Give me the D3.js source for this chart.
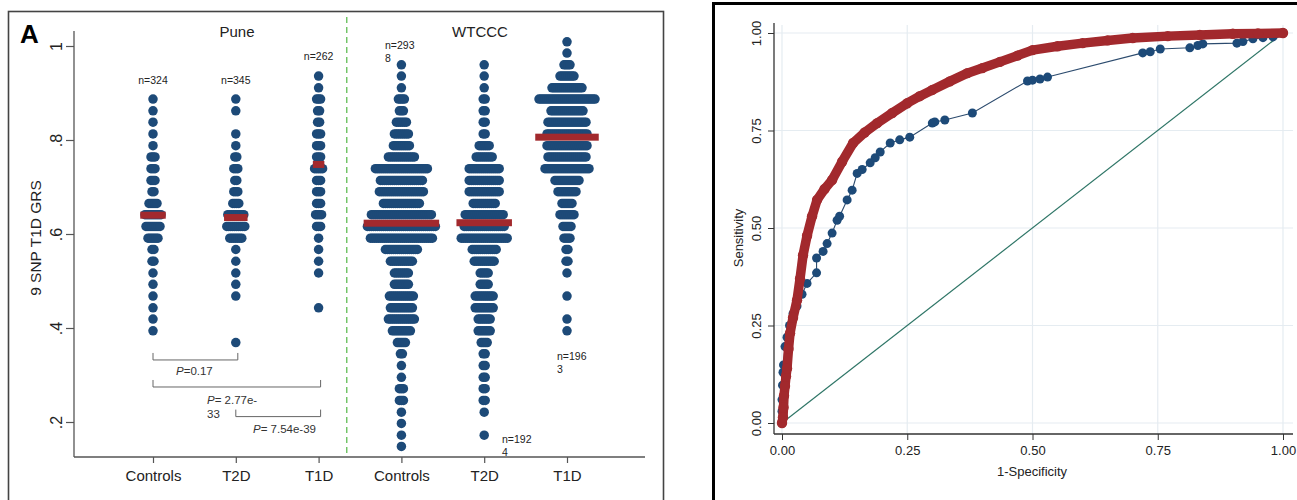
<!DOCTYPE html>
<html><head><meta charset="utf-8">
<script src="https://cdn.jsdelivr.net/npm/d3@7"></script>
<style>body{margin:0;background:#fff}svg{display:block}text{font-family:"Liberation Sans",Arial,sans-serif}</style>
</head><body><svg id="c" width="1297" height="500"></svg>
<script>
// ---------- DATA (left panel: dot plots) ----------
const binValues = [1.009,0.985,0.960,0.936,0.911,0.887,0.862,0.838,0.813,0.788,0.764,0.739,0.714,0.690,0.665,0.641,0.616,0.591,0.567,0.542,0.517,0.493,0.468,0.443,0.419,0.394,0.369,0.345,0.320,0.295,0.271,0.246,0.221,0.197,0.172,0.148];
const categories = ["Controls","T2D","T1D","Controls","T2D","T1D"];
const cohorts = ["Pune","WTCCC"];
const countsPuneControls = [0,0,0,0,0, 1,1,1,1,1,3,3,3,2,5,9,8,6,2,2,1,1,1,1,1,1, 0,0,0,0,0,0,0,0,0,0];
const countsPuneT2D      = [0,0,0,0,0, 1,1,0,1,1,2,3,2,3,4,9,10,7,1,1,1,1,1,0,0,0,1, 0,0,0,0,0,0,0,0,0];
const countsPuneT1D      = [0,0,0,1,1, 3,2,2,3,3,3,5,3,3,3,4,3,1,1,1,1,0,0,1, 0,0,0,0,0,0,0,0,0,0,0,0];
const countsWtcccControls= [0,0,1,1,1, 4,3,6,8,9,14,27,22,23,19,31,35,32,17,12,8,8,13,12,14,10,5,2,1,1,3,3,1,1,1,1];
const countsWtcccT2D     = [0,0,1,1,1, 2,2,2,2,6,9,16,16,16,12,20,21,24,13,11,5,5,10,10,7,7,4,2,2,2,2,2,1,0,1,0];
const countsWtcccT1D     = [1,1,4,8,16, 29,17,20,21,21,20,23,13,10,6,8,5,4,2,2,1,0,1,0,1,1, 0,0,0,0,0,0,0,0,0,0];
const medians     = [0.640,0.635,0.748,0.623,0.624,0.806];
const medianSpans = [9,8,2,34,24,28];
const nLabels = [["n=324"],["n=345"],["n=262"],["n=293","8"],["n=192","4"],["n=196","3"]];
const pLabels = [["P","=0.17"],["P","= 2.77e-","33"],["P","= 7.54e-39"]];
const yTicksLeft = [0.2,0.4,0.6,0.8,1];
const yTickLabelsLeft = [".2",".4",".6",".8","1"];

// ---------- DATA (right panel: ROC) ----------
const rocTicks = [0,0.25,0.5,0.75,1];
const redFpr = [0,0.002,0.003,0.004,0.006,0.008,0.01,0.013,0.016,0.022,0.03,0.036,0.042,0.05,0.06,0.07,0.085,0.10,0.12,0.142,0.165,0.19,0.22,0.25,0.275,0.30,0.335,0.37,0.40,0.435,0.47,0.50,0.55,0.60,0.65,0.70,0.77,0.834,0.90,0.95,1];
const redTpr = [0,0.015,0.04,0.07,0.095,0.12,0.14,0.19,0.23,0.27,0.315,0.37,0.43,0.48,0.53,0.572,0.60,0.623,0.67,0.718,0.745,0.769,0.795,0.82,0.838,0.854,0.876,0.897,0.91,0.926,0.942,0.956,0.966,0.974,0.981,0.987,0.992,0.995,0.998,0.999,1];
const blueFpr = [0,0,0,0.001,0.002,0.003,0.006,0.01,0.015,0.022,0.03,0.04,0.05,0.069,0.069,0.082,0.09,0.10,0.11,0.115,0.13,0.14,0.15,0.16,0.176,0.186,0.196,0.216,0.235,0.255,0.30,0.305,0.325,0.38,0.49,0.50,0.515,0.53,0.72,0.735,0.755,0.814,0.83,0.84,0.908,0.92,0.94,0.96,0.98,1];
const blueTpr = [0,0.03,0.06,0.097,0.13,0.149,0.196,0.22,0.25,0.28,0.30,0.33,0.358,0.385,0.423,0.44,0.46,0.487,0.52,0.53,0.572,0.597,0.64,0.65,0.667,0.68,0.695,0.718,0.726,0.733,0.769,0.772,0.777,0.795,0.877,0.879,0.882,0.887,0.949,0.952,0.959,0.962,0.968,0.972,0.974,0.978,0.985,0.988,0.99,1];

// ---------- DRAW ----------
const svg = d3.select("#c");
const BLUE = "#1d4a78", RED = "#a2292d";
svg.append("rect").attr("width",1297).attr("height",500).attr("fill","#fff");

// ===== Left panel =====
const L = svg.append("g");
L.append("rect").attr("x",8.5).attr("y",11.5).attr("width",655).attr("height",530)
  .attr("fill","none").attr("stroke","#444").attr("stroke-width",1.6);
const yL = d3.scaleLinear().domain([0.2,1]).range([422,46]);
const xL = d3.scaleLinear().domain([1,6]).range([153,567]);

// axes
const yAx = L.append("g").attr("transform","translate(74,0)")
  .call(d3.axisLeft(yL).tickValues(yTicksLeft).tickSize(8).tickFormat((d,i)=>yTickLabelsLeft[i]));
yAx.select(".domain").remove();
yAx.selectAll("line").attr("stroke","#555").attr("stroke-width",1.2);
yAx.selectAll("text").attr("font-size",16).attr("fill","#222")
  .attr("x",0).attr("y",0).attr("dy","0").attr("text-anchor","middle")
  .attr("transform","translate(-12,0) rotate(-90)");
L.append("line").attr("x1",74).attr("x2",74).attr("y1",31).attr("y2",457).attr("stroke","#555").attr("stroke-width",1.3);
L.append("line").attr("x1",74).attr("x2",645).attr("y1",457).attr("y2",457).attr("stroke","#555").attr("stroke-width",1.3);
const xAx = L.append("g").attr("transform","translate(0,457)")
  .call(d3.axisBottom(xL).tickValues([1,2,3,4,5,6]).tickSize(6).tickFormat((d)=>categories[d-1]));
xAx.select(".domain").remove();
xAx.selectAll("line").attr("stroke","#555").attr("stroke-width",1.2);
xAx.selectAll("text").attr("font-size",15).attr("fill","#222").attr("y",13);

L.append("text").attr("transform","translate(41,238) rotate(-90)").attr("text-anchor","middle")
  .attr("font-size",15.5).attr("fill","#222").text("9 SNP T1D GRS");
L.append("text").attr("x",20).attr("y",43).attr("font-size",26).attr("font-weight","bold").attr("fill","#000").text("A");
L.append("text").attr("x",237).attr("y",37).attr("text-anchor","middle").attr("font-size",15).attr("fill","#222").text(cohorts[0]);
L.append("text").attr("x",480).attr("y",37).attr("text-anchor","middle").attr("font-size",15).attr("fill","#222").text(cohorts[1]);

// divider
L.append("line").attr("x1",xL(3.34)).attr("x2",xL(3.34)).attr("y1",17).attr("y2",457)
  .attr("stroke","#6cc060").attr("stroke-width",1.4).attr("stroke-dasharray","6,4");

// dots
const allCounts = [countsPuneControls,countsPuneT2D,countsPuneT1D,countsWtcccControls,countsWtcccT2D,countsWtcccT1D];
const SP = 2.0, R = 4.75;
allCounts.forEach((counts,gi)=>{
  const cx = xL(gi+1);
  const pts = [];
  counts.forEach((c,k)=>{ for(let i=0;i<c;i++) pts.push([cx+(i-(c-1)/2)*SP, yL(binValues[k])]); });
  L.append("g").selectAll("circle").data(pts).join("circle")
    .attr("cx",d=>d[0]).attr("cy",d=>d[1]).attr("r",R).attr("fill",BLUE);
  const w = 2*R + (medianSpans[gi]-1)*SP;
  L.append("rect").attr("x",cx-w/2).attr("y",yL(medians[gi])-3.5).attr("width",w).attr("height",7).attr("fill",RED);
});

// n labels
const nPos = [[xL(1),84,"middle"],[xL(2),84,"middle"],[xL(3),60,"middle"],[385,49,"start"],[502,443,"start"],[557,360,"start"]];
nLabels.forEach((lab,i)=>{
  lab.forEach((s,j)=>{
    L.append("text").attr("x",nPos[i][0]).attr("y",nPos[i][1]+j*13).attr("text-anchor",nPos[i][2])
      .attr("font-size",10.5).attr("fill","#222").text(s);
  });
});

// brackets
const brackets = [[1,2,0.332],[1,3,0.2745],[2,3,0.2115]];
brackets.forEach(b=>{
  const x1 = xL(b[0]), x2 = xL(b[1])+2, yb = yL(b[2]);
  L.append("path").attr("d",`M${x1},${yb-7}L${x1},${yb}L${x2},${yb}L${x2},${yb-7}`)
    .attr("fill","none").attr("stroke","#666").attr("stroke-width",1);
});
const pPos = [[176,375],[207,404],[253,433]];
pLabels.forEach((p,i)=>{
  const t = L.append("text").attr("x",pPos[i][0]).attr("y",pPos[i][1]).attr("font-size",11.5).attr("fill","#333");
  t.append("tspan").attr("font-style","italic").text(p[0]);
  t.append("tspan").text(p[1]);
  if(p[2]) L.append("text").attr("x",pPos[i][0]).attr("y",pPos[i][1]+14).attr("font-size",11.5).attr("fill","#333").text(p[2]);
});

// ===== Right panel (ROC) =====
const Rg = svg.append("g");
Rg.append("rect").attr("x",713.5).attr("y",3.5).attr("width",620).attr("height",540)
  .attr("fill","none").attr("stroke","#000").attr("stroke-width",3);
const xR = d3.scaleLinear().domain([0,1]).range([782,1283]);
const yR = d3.scaleLinear().domain([0,1]).range([423,33]);
// grid
Rg.append("g").selectAll("line").data(rocTicks).join("line")
  .attr("x1",774).attr("x2",1293).attr("y1",d=>yR(d)).attr("y2",d=>yR(d)).attr("stroke","#e5ecf1").attr("stroke-width",1.2);
Rg.append("g").selectAll("line").data(rocTicks).join("line")
  .attr("y1",25).attr("y2",434).attr("x1",d=>xR(d)).attr("x2",d=>xR(d)).attr("stroke","#e5ecf1").attr("stroke-width",1.2);
// axes
const fmt = d3.format(".2f");
const xRA = Rg.append("g").attr("transform","translate(0,434)").call(d3.axisBottom(xR).tickValues(rocTicks).tickSize(6).tickFormat(fmt));
xRA.select(".domain").remove();
xRA.selectAll("line").attr("stroke","#333");
xRA.selectAll("text").attr("font-size",13).attr("fill","#222").attr("y",12);
const yRA = Rg.append("g").attr("transform","translate(774,0)").call(d3.axisLeft(yR).tickValues(rocTicks).tickSize(6).tickFormat(fmt));
yRA.select(".domain").remove();
yRA.selectAll("line").attr("stroke","#333");
yRA.selectAll("text").attr("font-size",13).attr("fill","#222").attr("dy",0)
  .attr("text-anchor","middle").attr("x",0).attr("y",0)
  .attr("transform","translate(-13,0) rotate(-90)");
Rg.append("line").attr("x1",774).attr("x2",774).attr("y1",23).attr("y2",434).attr("stroke","#333").attr("stroke-width",1.3);
Rg.append("line").attr("x1",774).attr("x2",1293).attr("y1",434).attr("y2",434).attr("stroke","#333").attr("stroke-width",1.3);
Rg.append("text").attr("x",1032).attr("y",476).attr("text-anchor","middle").attr("font-size",13).attr("fill","#222").text("1-Specificity");
Rg.append("text").attr("transform","translate(743,238) rotate(-90)").attr("text-anchor","middle").attr("font-size",13).attr("fill","#222").text("Sensitivity");

// diagonal
Rg.append("line").attr("x1",xR(0)).attr("y1",yR(0)).attr("x2",xR(1)).attr("y2",yR(1)).attr("stroke","#2f7667").attr("stroke-width",1.2);
// blue curve
const bluePts = blueFpr.map((f,i)=>[f,blueTpr[i]]);
const redPts = redFpr.map((f,i)=>[f,redTpr[i]]);
const line = d3.line().x(d=>xR(d[0])).y(d=>yR(d[1]));
Rg.append("path").attr("d",line(bluePts)).attr("fill","none").attr("stroke","#2c4b6e").attr("stroke-width",1.1);
Rg.append("g").selectAll("circle").data(bluePts).join("circle")
  .attr("cx",d=>xR(d[0])).attr("cy",d=>yR(d[1])).attr("r",4.5).attr("fill",BLUE);
// red curve
Rg.append("path").attr("d",line(redPts)).attr("fill","none").attr("stroke",RED).attr("stroke-width",9.5)
  .attr("stroke-linecap","round").attr("stroke-linejoin","round");
Rg.append("g").selectAll("circle").data(redPts).join("circle")
  .attr("cx",d=>xR(d[0])).attr("cy",d=>yR(d[1])).attr("r",5.2).attr("fill",RED);
</script></body></html>
